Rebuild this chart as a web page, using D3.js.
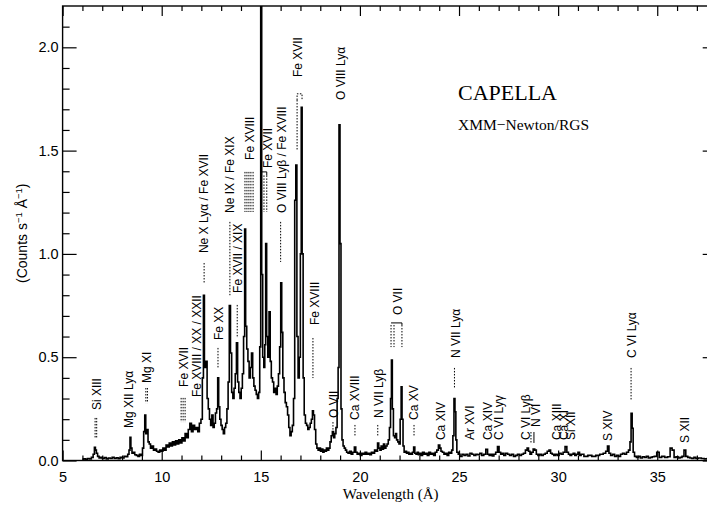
<!DOCTYPE html>
<html>
<head>
<meta charset="utf-8">
<script src="https://cdn.jsdelivr.net/npm/d3@7"></script>
<style>
  body { margin: 0; background: #fff; }
  svg { display: block; font-family: "Liberation Sans", sans-serif; }
</style>
</head>
<body>
<svg></svg>
<script>
// spectrum (Angstrom, counts s-1 A-1)
const wavelength = [
  6.00, 6.10, 6.20, 6.30, 6.40, 6.50, 6.58, 6.63, 6.68, 6.73, 6.80, 6.88, 6.95, 7.05, 7.15, 7.25,
  7.35, 7.45, 7.55, 7.65, 7.75, 7.85, 7.95, 8.05, 8.15, 8.25, 8.32, 8.38, 8.42, 8.47, 8.53, 8.60,
  8.68, 8.76, 8.84, 8.92, 9.00, 9.06, 9.12, 9.17, 9.22, 9.28, 9.34, 9.40, 9.47, 9.55, 9.62, 9.70,
  9.78, 9.86, 9.94, 10.02, 10.10, 10.18, 10.26, 10.34, 10.42, 10.50, 10.58, 10.66, 10.74, 10.82,
  10.90, 10.98, 11.06, 11.14, 11.22, 11.30, 11.38, 11.46, 11.54, 11.62, 11.70, 11.78, 11.86, 11.94,
  12.02, 12.08, 12.13, 12.18, 12.26, 12.32, 12.38, 12.44, 12.50, 12.56, 12.62, 12.68, 12.74, 12.80,
  12.85, 12.90, 12.96, 13.02, 13.08, 13.14, 13.20, 13.26, 13.32, 13.38, 13.44, 13.50, 13.56, 13.62,
  13.68, 13.74, 13.80, 13.86, 13.92, 13.98, 14.04, 14.10, 14.16, 14.21, 14.26, 14.32, 14.38, 14.44,
  14.50, 14.56, 14.62, 14.68, 14.74, 14.80, 14.86, 14.92, 14.97, 15.02, 15.07, 15.12, 15.18, 15.22,
  15.27, 15.32, 15.38, 15.45, 15.50, 15.56, 15.62, 15.68, 15.74, 15.80, 15.86, 15.92, 15.98, 16.03,
  16.08, 16.14, 16.20, 16.26, 16.32, 16.38, 16.44, 16.50, 16.56, 16.62, 16.68, 16.74, 16.79, 16.85,
  16.91, 16.97, 17.02, 17.06, 17.11, 17.16, 17.22, 17.28, 17.34, 17.40, 17.46, 17.52, 17.58, 17.63,
  17.68, 17.74, 17.80, 17.86, 17.92, 17.98, 18.04, 18.10, 18.16, 18.22, 18.28, 18.34, 18.40, 18.46,
  18.52, 18.58, 18.64, 18.70, 18.76, 18.82, 18.88, 18.92, 18.97, 19.02, 19.07, 19.12, 19.18, 19.24,
  19.30, 19.36, 19.44, 19.52, 19.60, 19.68, 19.76, 19.82, 19.90, 19.98, 20.06, 20.14, 20.22, 20.30,
  20.38, 20.46, 20.54, 20.62, 20.70, 20.78, 20.86, 20.92, 20.98, 21.04, 21.10, 21.16, 21.22, 21.28,
  21.34, 21.40, 21.46, 21.52, 21.57, 21.61, 21.66, 21.72, 21.78, 21.82, 21.88, 21.94, 22.00, 22.06,
  22.10, 22.15, 22.20, 22.26, 22.32, 22.38, 22.44, 22.50, 22.56, 22.62, 22.68, 22.74, 22.80, 22.86,
  22.92, 22.98, 23.04, 23.12, 23.20, 23.28, 23.36, 23.44, 23.52, 23.60, 23.68, 23.76, 23.84, 23.92,
  24.00, 24.06, 24.12, 24.20, 24.28, 24.36, 24.44, 24.52, 24.60, 24.66, 24.72, 24.77, 24.82, 24.86,
  24.92, 25.00, 25.10, 25.20, 25.30, 25.40, 25.50, 25.60, 25.70, 25.80, 25.90, 26.00, 26.10, 26.20,
  26.30, 26.40, 26.48, 26.56, 26.64, 26.72, 26.80, 26.90, 26.98, 27.06, 27.14, 27.22, 27.30, 27.40,
  27.50, 27.60, 27.70, 27.80, 27.90, 28.00, 28.10, 28.20, 28.30, 28.40, 28.47, 28.54, 28.62, 28.70,
  28.78, 28.86, 28.94, 29.02, 29.10, 29.20, 29.30, 29.40, 29.50, 29.58, 29.66, 29.74, 29.82, 29.90,
  30.00, 30.10, 30.20, 30.30, 30.40, 30.48, 30.56, 30.64, 30.72, 30.80, 30.88, 30.96, 31.04, 31.12,
  31.20, 31.40, 31.60, 31.80, 32.00, 32.20, 32.35, 32.45, 32.53, 32.60, 32.70, 32.80, 32.90, 33.00,
  33.10, 33.20, 33.30, 33.40, 33.50, 33.60, 33.65, 33.71, 33.76, 33.81, 33.90, 34.00, 34.10, 34.20,
  34.30, 34.40, 34.50, 34.60, 34.70, 34.80, 34.90, 35.05, 35.15, 35.30, 35.45, 35.60, 35.70, 35.80,
  35.90, 36.00, 36.10, 36.20, 36.30, 36.40, 36.48, 36.60, 36.70, 36.80, 36.90, 37.00, 37.15, 37.30,
  37.45, 37.60, 37.75, 37.90, 38.00
];

const counts = [
  0.005, 0.008, 0.006, 0.010, 0.008, 0.015, 0.030, 0.064, 0.050, 0.035, 0.020, 0.012, 0.015, 0.010, 0.014, 0.008,
  0.012, 0.010, 0.016, 0.010, 0.013, 0.009, 0.015, 0.012, 0.020, 0.018, 0.030, 0.050, 0.112, 0.060, 0.035, 0.040,
  0.028, 0.025, 0.020, 0.030, 0.025, 0.060, 0.140, 0.220, 0.130, 0.150, 0.090, 0.080, 0.060, 0.070, 0.050, 0.055,
  0.045, 0.040, 0.050, 0.045, 0.060, 0.050, 0.075, 0.065, 0.085, 0.070, 0.090, 0.075, 0.095, 0.080,
  0.100, 0.085, 0.110, 0.095, 0.130, 0.110, 0.150, 0.180, 0.140, 0.170, 0.150, 0.160, 0.140, 0.180,
  0.200, 0.400, 0.800, 0.450, 0.480, 0.300, 0.250, 0.200, 0.170, 0.220, 0.160, 0.180, 0.230, 0.250,
  0.400, 0.260, 0.200, 0.170, 0.150, 0.130, 0.160, 0.180, 0.250, 0.380, 0.750, 0.520, 0.330, 0.300,
  0.350, 0.420, 0.570, 0.380, 0.330, 0.300, 0.350, 0.420, 0.600, 1.120, 0.650, 0.540, 0.480, 0.400,
  0.450, 0.520, 0.400, 0.360, 0.340, 0.320, 0.300, 0.330, 0.550, 2.600, 0.900, 0.500, 0.450, 0.560,
  1.050, 0.600, 0.500, 0.720, 0.480, 0.400, 0.380, 0.330, 0.350, 0.320, 0.360, 0.420, 0.550, 0.860,
  0.620, 0.400, 0.330, 0.280, 0.260, 0.220, 0.160, 0.120, 0.140, 0.170, 0.300, 1.260, 1.430, 0.600,
  0.400, 0.500, 1.000, 1.710, 1.000, 0.400, 0.220, 0.180, 0.170, 0.150, 0.160, 0.180, 0.200, 0.240,
  0.220, 0.150, 0.080, 0.060, 0.050, 0.060, 0.045, 0.055, 0.040, 0.050, 0.045, 0.060, 0.050, 0.060,
  0.090, 0.120, 0.140, 0.110, 0.130, 0.160, 0.300, 0.450, 1.625, 1.050, 0.250, 0.100, 0.070, 0.060,
  0.050, 0.040, 0.035, 0.045, 0.030, 0.040, 0.065, 0.040, 0.030, 0.035, 0.025, 0.035, 0.030, 0.040,
  0.030, 0.035, 0.028, 0.040, 0.035, 0.050, 0.045, 0.085, 0.060, 0.050, 0.070, 0.055, 0.080, 0.060,
  0.070, 0.080, 0.100, 0.160, 0.300, 0.486, 0.250, 0.120, 0.110, 0.130, 0.100, 0.090, 0.080, 0.200,
  0.357, 0.200, 0.070, 0.040, 0.045, 0.035, 0.040, 0.030, 0.035, 0.030, 0.040, 0.065, 0.035, 0.030,
  0.040, 0.028, 0.035, 0.025, 0.040, 0.030, 0.035, 0.025, 0.040, 0.030, 0.035, 0.025, 0.040, 0.050,
  0.075, 0.060, 0.045, 0.040, 0.030, 0.035, 0.025, 0.040, 0.035, 0.050, 0.120, 0.300, 0.236, 0.100,
  0.040, 0.030, 0.020, 0.030, 0.025, 0.030, 0.022, 0.035, 0.030, 0.025, 0.030, 0.028, 0.035, 0.025,
  0.030, 0.054, 0.030, 0.025, 0.030, 0.022, 0.030, 0.040, 0.067, 0.040, 0.030, 0.035, 0.025, 0.035,
  0.030, 0.025, 0.030, 0.020, 0.025, 0.030, 0.025, 0.030, 0.035, 0.050, 0.060, 0.045, 0.030, 0.040,
  0.055, 0.050, 0.030, 0.025, 0.030, 0.025, 0.030, 0.035, 0.045, 0.050, 0.035, 0.030, 0.025, 0.030,
  0.025, 0.035, 0.030, 0.040, 0.067, 0.040, 0.030, 0.025, 0.030, 0.035, 0.025, 0.030, 0.040, 0.025,
  0.030, 0.020, 0.025, 0.020, 0.025, 0.030, 0.035, 0.045, 0.070, 0.035, 0.025, 0.030, 0.020, 0.025,
  0.020, 0.030, 0.035, 0.030, 0.040, 0.050, 0.090, 0.228, 0.156, 0.040, 0.020, 0.015, 0.020, 0.012,
  0.018, 0.015, 0.020, 0.012, 0.015, 0.018, 0.020, 0.040, 0.015, 0.020, 0.015, 0.018, 0.060, 0.050,
  0.015, 0.018, 0.012, 0.015, 0.020, 0.050, 0.020, 0.015, 0.012, 0.010, 0.015, 0.010, 0.012, 0.010,
  0.008, 0.010, 0.012, 0.010, 0.010
];

const xTicks = [5, 10, 15, 20, 25, 30, 35];
const yTicks = [0, 0.5, 1.0, 1.5, 2.0];

// line identifications: name, wavelength of the label, level where the text starts
const labelNames = [
  "Si XIII", "Mg XII Lyα", "Mg XI", "Fe XVII", "Fe XVIII / XX / XXII", "Ne X Lyα / Fe XVII",
  "Fe XX", "Ne IX / Fe XIX", "Fe XVII / XIX", "Fe XVIII", "Fe XVII", "O VIII Lyβ / Fe XVIII",
  "Fe XVII", "O VIII Lyα", "Fe XVIII", "O VII", "Ca XVIII", "N VII Lyβ", "O VII", "Ca XV",
  "Ca XIV", "N VII Lyα", "Ar XVI", "Ca XIV", "C VI Lyγ", "C VI Lyβ", "N VI", "Ca XIII",
  "Ca XI", "Si XII", "S XIV", "C VI Lyα", "S XII"
];
const labelWaves = [
  6.74, 8.35, 9.26, 11.13, 11.79, 12.14, 12.87, 13.45, 13.85, 14.45, 15.36, 16.07,
  16.88, 19.05, 17.74, 18.69, 19.75, 20.93, 21.92, 22.73, 24.09, 24.85, 25.56, 26.45,
  27.02, 28.38, 28.89, 29.94, 30.30, 30.65, 32.52, 33.73, 36.40
];
const labelLevels = [
  0.244, 0.157, 0.375, 0.356, 0.307, 1.004, 0.583, 1.198, 0.811, 1.455, 1.416, 1.198,
  1.856, 1.745, 0.656, 0.206, 0.196, 0.206, 0.704, 0.196, 0.099, 0.496, 0.099, 0.099,
  0.099, 0.099, 0.162, 0.099, 0.099, 0.099, 0.094, 0.496, 0.085
];

// dotted markers under the labels: wavelength, upper and lower level
const markerWaves = [
  6.64, 6.72, 9.20, 9.28, 10.98, 11.08, 11.18, 12.14, 12.84, 13.44, 13.81,
  14.20, 14.30, 14.40, 14.50, 14.61, 15.16, 15.30, 16.00, 16.83, 17.63, 18.64,
  19.75, 20.90, 21.57, 21.72, 22.12, 22.73, 24.77, 28.63, 33.68
];
const markerTops = [
  0.206, 0.206, 0.351, 0.351, 0.303, 0.303, 0.303, 0.956, 0.545, 1.155, 0.753,
  1.397, 1.397, 1.397, 1.397, 1.397, 1.380, 1.380, 1.155, 1.745, 0.593, 0.186,
  0.172, 0.172, 0.656, 0.656, 0.656, 0.172, 0.448, 0.138, 0.448
];
const markerBottoms = [
  0.109, 0.109, 0.278, 0.278, 0.186, 0.186, 0.186, 0.859, 0.448, 0.800, 0.593,
  1.203, 1.203, 1.203, 1.203, 1.203, 1.203, 1.203, 0.961, 1.503, 0.399, 0.138,
  0.114, 0.114, 0.549, 0.549, 0.549, 0.114, 0.351, 0.085, 0.293
];

// small brackets joining blended lines
const brackets = [
  { dashed: false, pts: [[15.02, 1.397], [15.30, 1.397], [15.30, 1.380]] },
  { dashed: false, pts: [[21.57, 0.666], [22.12, 0.666], [22.12, 0.656]] },
  { dashed: true, pts: [[16.83, 1.745], [16.83, 1.775], [17.08, 1.775], [17.08, 1.745]] },
  { dashed: false, pts: [[28.78, 0.138], [28.78, 0.085]] }
];

const sizes = {
  width: 707,
  height: 505,
  left: 62.6,
  right: 716.7,
  top: 6,
  bottom: 460.5
};

const svg = d3.select("svg")
  .attr("width", sizes.width)
  .attr("height", sizes.height);

const x = d3.scaleLinear().domain([5, 38]).range([sizes.left, sizes.right]);
const y = d3.scaleLinear().domain([0, 2.2]).range([sizes.bottom, sizes.top]);

svg.append("clipPath").attr("id", "plotClip")
  .append("rect")
  .attr("x", sizes.left)
  .attr("y", sizes.top)
  .attr("width", sizes.right - sizes.left)
  .attr("height", sizes.bottom - sizes.top);

// spectrum
const spectrum = wavelength.map((w, i) => [w, counts[i]]);
const lineCreater = d3.line()
  .x(d => x(d[0]))
  .y(d => y(d[1]))
  .curve(d3.curveStep);

svg.append("path")
  .attr("clip-path", "url(#plotClip)")
  .attr("d", lineCreater(spectrum))
  .attr("fill", "none")
  .attr("stroke", "#000")
  .attr("stroke-width", 1.6)
  .attr("stroke-linejoin", "miter");

// axes, ticks pointing inwards
const xMinor = d3.range(5, 39, 1).filter(v => v % 5 !== 0);
const yMinor = d3.range(0, 22, 1).map(v => v / 10).filter(v => Math.round(v * 10) % 5 !== 0);

function styleAxis(g) {
  g.select(".domain").remove();
  g.selectAll(".tick line").attr("stroke", "#000").attr("stroke-width", 1.2);
  g.selectAll("text")
    .attr("fill", "#000")
    .style("font-family", "'Liberation Sans', sans-serif")
    .style("font-size", "14.5px");
}

svg.append("g")
  .attr("transform", `translate(0,${sizes.bottom})`)
  .call(d3.axisBottom(x).tickValues(xTicks).tickSizeInner(-10).tickSizeOuter(0)
    .tickPadding(11).tickFormat(d3.format("d")))
  .call(styleAxis);
svg.append("g")
  .attr("transform", `translate(0,${sizes.bottom})`)
  .call(d3.axisBottom(x).tickValues(xMinor).tickSizeInner(-5).tickSizeOuter(0).tickFormat(""))
  .call(styleAxis);
svg.append("g")
  .attr("transform", `translate(0,${sizes.top})`)
  .call(d3.axisTop(x).tickValues(xTicks).tickSizeInner(-10).tickSizeOuter(0).tickFormat(""))
  .call(styleAxis);
svg.append("g")
  .attr("transform", `translate(0,${sizes.top})`)
  .call(d3.axisTop(x).tickValues(xMinor).tickSizeInner(-5).tickSizeOuter(0).tickFormat(""))
  .call(styleAxis);

svg.append("g")
  .attr("transform", `translate(${sizes.left},0)`)
  .call(d3.axisLeft(y).tickValues(yTicks).tickSizeInner(-14).tickSizeOuter(0)
    .tickPadding(4).tickFormat(d3.format(".1f")))
  .call(styleAxis);
svg.append("g")
  .attr("transform", `translate(${sizes.left},0)`)
  .call(d3.axisLeft(y).tickValues(yMinor).tickSizeInner(-7).tickSizeOuter(0).tickFormat(""))
  .call(styleAxis);
svg.append("g")
  .attr("transform", `translate(${sizes.right},0)`)
  .call(d3.axisRight(y).tickValues(yTicks).tickSizeInner(-14).tickSizeOuter(0).tickFormat(""))
  .call(styleAxis);
svg.append("g")
  .attr("transform", `translate(${sizes.right},0)`)
  .call(d3.axisRight(y).tickValues(yMinor).tickSizeInner(-7).tickSizeOuter(0).tickFormat(""))
  .call(styleAxis);

svg.append("rect")
  .attr("x", sizes.left)
  .attr("y", sizes.top)
  .attr("width", sizes.right - sizes.left)
  .attr("height", sizes.bottom - sizes.top)
  .attr("fill", "none")
  .attr("stroke", "#000")
  .attr("stroke-width", 1.4);

// markers
svg.append("g").selectAll("line")
  .data(markerWaves)
  .join("line")
  .attr("x1", d => x(d))
  .attr("x2", d => x(d))
  .attr("y1", (d, i) => y(markerTops[i]))
  .attr("y2", (d, i) => y(markerBottoms[i]))
  .attr("stroke", "#000")
  .attr("stroke-width", 1)
  .attr("stroke-dasharray", "1.5,1.5");

const bracketLine = d3.line().x(d => x(d[0])).y(d => y(d[1]));
svg.append("g").selectAll("path")
  .data(brackets)
  .join("path")
  .attr("d", d => bracketLine(d.pts))
  .attr("fill", "none")
  .attr("stroke", "#000")
  .attr("stroke-width", 1)
  .attr("stroke-dasharray", d => d.dashed ? "1.5,1.5" : null);

// rotated line labels
svg.append("g").selectAll("text")
  .data(labelNames)
  .join("text")
  .attr("transform", (d, i) => `translate(${x(labelWaves[i])},${y(labelLevels[i])}) rotate(-90)`)
  .attr("dy", "0.35em")
  .style("font-family", "'Liberation Sans', sans-serif")
  .style("font-size", "12px")
  .attr("fill", "#000")
  .text(d => d);

// titles
svg.append("text")
  .attr("x", 458)
  .attr("y", 100)
  .style("font-family", "'Liberation Serif', serif")
  .style("font-size", "22px")
  .text("CAPELLA");

svg.append("text")
  .attr("x", 458)
  .attr("y", 130)
  .style("font-family", "'Liberation Serif', serif")
  .style("font-size", "15.5px")
  .text("XMM−Newton/RGS");

svg.append("text")
  .attr("x", (x(5) + x(38)) / 2 + 1)
  .attr("y", 499)
  .attr("text-anchor", "middle")
  .style("font-family", "'Liberation Serif', serif")
  .style("font-size", "15px")
  .text("Wavelength (Å)");

const yTitle = svg.append("text")
  .attr("transform", `translate(27,${(sizes.top + sizes.bottom) / 2}) rotate(-90)`)
  .attr("text-anchor", "middle")
  .style("font-family", "'Liberation Sans', sans-serif")
  .style("font-size", "14px");
yTitle.append("tspan").text("(Counts s");
yTitle.append("tspan").attr("dy", -5).style("font-size", "9.5px").text("−1");
yTitle.append("tspan").attr("dy", 5).text(" Å");
yTitle.append("tspan").attr("dy", -5).style("font-size", "9.5px").text("−1");
yTitle.append("tspan").attr("dy", 5).text(")");
</script>
</body>
</html>
